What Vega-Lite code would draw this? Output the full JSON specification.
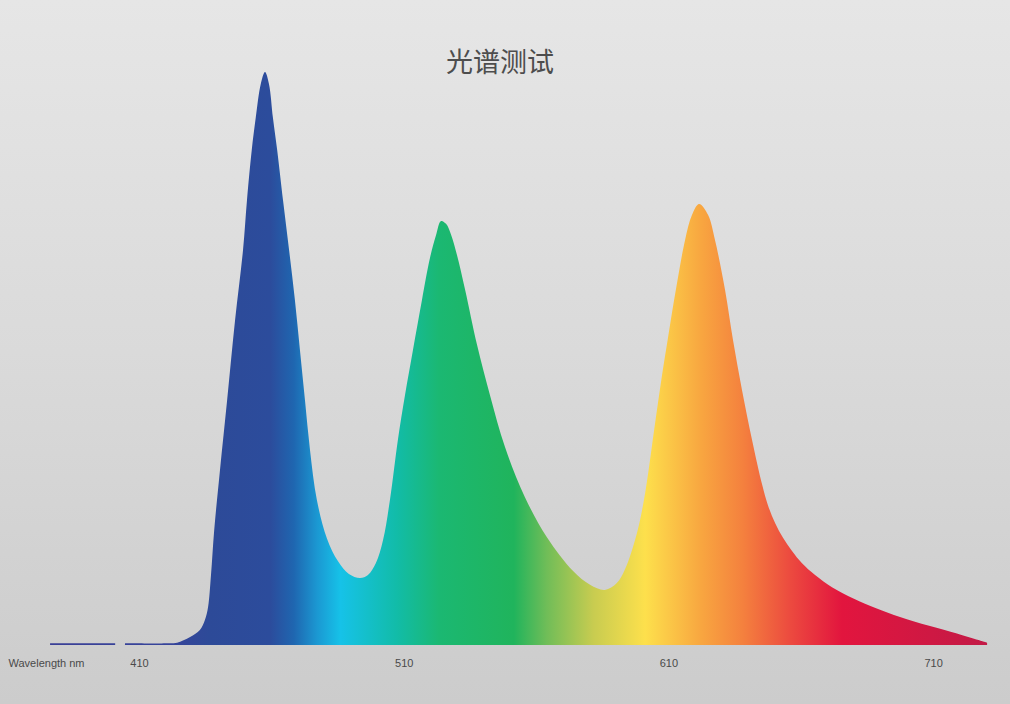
{
  "$schema": "https://vega.github.io/schema/vega-lite/v6.json",
  "width": 1010,
  "height": 704,
  "autosize": {"type": "none"},
  "padding": 0,
  "background": "#d9d9d9",
  "title": {
    "text": "光谱测试",
    "anchor": "middle",
    "frame": "group",
    "font": "Noto Sans CJK SC",
    "fontSize": 27,
    "fontWeight": "normal",
    "color": "#4d4d4d",
    "offset": 0,
    "baseline": "middle",
    "dy": 91,
    "dx": -5
  },
  "config": {
    "view": {
      "stroke": null,
      "fill": {
        "gradient": "linear",
        "x1": 0, "y1": 0, "x2": 0, "y2": 1,
        "stops": [
          {"offset": 0, "color": "#e6e6e6"},
          {"offset": 0.5, "color": "#dadada"},
          {"offset": 1, "color": "#cccccc"}
        ]
      }
    }
  },
  "data": {
    "values": [
      {"wavelength": 376.4, "intensity": 0.3},
      {"wavelength": 401.0, "intensity": 0.3},
      {"wavelength": 402.8, "intensity": null},
      {"wavelength": 404.7, "intensity": 0.3},
      {"wavelength": 421.7, "intensity": 0.3},
      {"wavelength": 424.4, "intensity": 0.4},
      {"wavelength": 429.3, "intensity": 1.4},
      {"wavelength": 433.0, "intensity": 2.62},
      {"wavelength": 434.9, "intensity": 4.36},
      {"wavelength": 436.1, "intensity": 6.63},
      {"wavelength": 437.2, "intensity": 12.2},
      {"wavelength": 438.4, "intensity": 20.0},
      {"wavelength": 440.6, "intensity": 30.54},
      {"wavelength": 443.3, "intensity": 42.76},
      {"wavelength": 446.3, "intensity": 56.72},
      {"wavelength": 449.3, "intensity": 68.94},
      {"wavelength": 450.8, "intensity": 77.66},
      {"wavelength": 452.6, "intensity": 86.39},
      {"wavelength": 454.1, "intensity": 92.0},
      {"wavelength": 456.0, "intensity": 97.9},
      {"wavelength": 457.6, "intensity": 100.0},
      {"wavelength": 459.1, "intensity": 97.9},
      {"wavelength": 460.6, "intensity": 92.0},
      {"wavelength": 462.2, "intensity": 86.39},
      {"wavelength": 464.4, "intensity": 77.66},
      {"wavelength": 466.7, "intensity": 68.94},
      {"wavelength": 468.9, "intensity": 60.21},
      {"wavelength": 470.8, "intensity": 51.48},
      {"wavelength": 472.7, "intensity": 42.76},
      {"wavelength": 474.6, "intensity": 34.03},
      {"wavelength": 477.2, "intensity": 25.31},
      {"wavelength": 481.0, "intensity": 18.6},
      {"wavelength": 485.2, "intensity": 14.6},
      {"wavelength": 489.3, "intensity": 12.4},
      {"wavelength": 493.5, "intensity": 11.69},
      {"wavelength": 496.5, "intensity": 12.22},
      {"wavelength": 499.5, "intensity": 14.31},
      {"wavelength": 502.2, "intensity": 18.32},
      {"wavelength": 504.8, "intensity": 25.31},
      {"wavelength": 507.8, "intensity": 35.78},
      {"wavelength": 510.5, "intensity": 43.63},
      {"wavelength": 513.5, "intensity": 51.48},
      {"wavelength": 516.9, "intensity": 60.21},
      {"wavelength": 519.9, "intensity": 67.5},
      {"wavelength": 522.2, "intensity": 71.5},
      {"wavelength": 524.1, "intensity": 74.0},
      {"wavelength": 526.0, "intensity": 73.5},
      {"wavelength": 527.9, "intensity": 71.6},
      {"wavelength": 530.1, "intensity": 68.1},
      {"wavelength": 533.2, "intensity": 62.0},
      {"wavelength": 537.7, "intensity": 52.4},
      {"wavelength": 542.6, "intensity": 43.6},
      {"wavelength": 548.3, "intensity": 34.5},
      {"wavelength": 555.8, "intensity": 25.8},
      {"wavelength": 564.1, "intensity": 18.8},
      {"wavelength": 574.0, "intensity": 12.9},
      {"wavelength": 580.4, "intensity": 10.5},
      {"wavelength": 586.0, "intensity": 9.6},
      {"wavelength": 590.5, "intensity": 10.8},
      {"wavelength": 593.6, "intensity": 13.2},
      {"wavelength": 598.1, "intensity": 19.5},
      {"wavelength": 601.2, "intensity": 26.5},
      {"wavelength": 604.9, "intensity": 38.5},
      {"wavelength": 607.6, "intensity": 47.12},
      {"wavelength": 609.8, "intensity": 53.5},
      {"wavelength": 612.9, "intensity": 62.2},
      {"wavelength": 616.3, "intensity": 70.68},
      {"wavelength": 618.9, "intensity": 75.04},
      {"wavelength": 621.6, "intensity": 76.96},
      {"wavelength": 625.0, "intensity": 75.04},
      {"wavelength": 627.6, "intensity": 70.68},
      {"wavelength": 631.4, "intensity": 61.95},
      {"wavelength": 634.4, "intensity": 53.23},
      {"wavelength": 637.8, "intensity": 44.5},
      {"wavelength": 641.6, "intensity": 35.78},
      {"wavelength": 645.4, "intensity": 28.0},
      {"wavelength": 647.6, "intensity": 24.4},
      {"wavelength": 650.3, "intensity": 21.3},
      {"wavelength": 653.3, "intensity": 18.7},
      {"wavelength": 656.7, "intensity": 16.4},
      {"wavelength": 660.4, "intensity": 14.3},
      {"wavelength": 665.4, "intensity": 12.2},
      {"wavelength": 671.8, "intensity": 10.1},
      {"wavelength": 680.5, "intensity": 8.0},
      {"wavelength": 697.5, "intensity": 4.9},
      {"wavelength": 719.0, "intensity": 2.0},
      {"wavelength": 730.4, "intensity": 0.4}
    ]
  },
  "mark": {
    "type": "area",
    "interpolate": "catmull-rom",
    "invalid": "break-paths-filter-domains",
    "fill": {
      "gradient": "linear",
      "x1": 0, "y1": 0, "x2": 1, "y2": 0,
      "stops": [
        {"offset": 0, "color": "#3a3f96"},
        {"offset": 0.13, "color": "#36449a"},
        {"offset": 0.17, "color": "#2d4a98"},
        {"offset": 0.235, "color": "#2c4c9c"},
        {"offset": 0.26, "color": "#1f66b0"},
        {"offset": 0.285, "color": "#1b98d2"},
        {"offset": 0.31, "color": "#16c2e8"},
        {"offset": 0.37, "color": "#12bca8"},
        {"offset": 0.415, "color": "#1bb872"},
        {"offset": 0.495, "color": "#20b45c"},
        {"offset": 0.53, "color": "#70bd58"},
        {"offset": 0.58, "color": "#c8cc50"},
        {"offset": 0.635, "color": "#fde04c"},
        {"offset": 0.695, "color": "#f8a640"},
        {"offset": 0.74, "color": "#f4803e"},
        {"offset": 0.79, "color": "#ec4a3f"},
        {"offset": 0.845, "color": "#e2153e"},
        {"offset": 1, "color": "#c21a46"}
      ]
    }
  },
  "encoding": {
    "x": {
      "field": "wavelength",
      "type": "quantitative",
      "scale": {"domain": [357.49, 739.05], "nice": false, "zero": false},
      "axis": {
        "orient": "bottom",
        "values": [410, 510, 610, 710],
        "offset": -59,
        "domain": false,
        "ticks": false,
        "grid": false,
        "labelPadding": 18,
        "labelBaseline": "middle",
        "labelFont": "Liberation Sans",
        "labelFontSize": 11,
        "labelColor": "#4a4a4a",
        "labelFlush": false,
        "labelOverlap": false,
        "title": "Wavelength nm",
        "titleX": 8,
        "titleY": 18,
        "titleAlign": "left",
        "titleBaseline": "middle",
        "titleFont": "Liberation Sans",
        "titleFontSize": 11,
        "titleFontWeight": "normal",
        "titleColor": "#4a4a4a"
      }
    },
    "y": {
      "field": "intensity",
      "type": "quantitative",
      "scale": {"domain": [-10.297, 112.565], "nice": false, "zero": false},
      "axis": null
    },
    "y2": {"datum": 0}
  }
}
